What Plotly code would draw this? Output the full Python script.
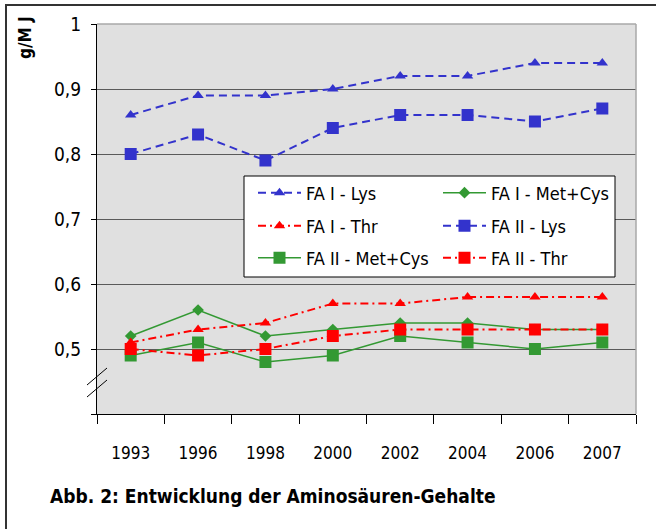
import plotly.graph_objects as go

years = ["1993", "1996", "1998", "2000", "2002", "2004", "2006", "2007"]
fa1_lys = [0.86, 0.89, 0.89, 0.90, 0.92, 0.92, 0.94, 0.94]
fa1_metcys = [0.52, 0.56, 0.52, 0.53, 0.54, 0.54, 0.53, 0.53]
fa1_thr = [0.51, 0.53, 0.54, 0.57, 0.57, 0.58, 0.58, 0.58]
fa2_lys = [0.80, 0.83, 0.79, 0.84, 0.86, 0.86, 0.85, 0.87]
fa2_metcys = [0.49, 0.51, 0.48, 0.49, 0.52, 0.51, 0.50, 0.51]
fa2_thr = [0.50, 0.49, 0.50, 0.52, 0.53, 0.53, 0.53, 0.53]
y_ticks = [0.4, 0.5, 0.6, 0.7, 0.8, 0.9, 1.0]
y_ticktext = ["", "0,5", "0,6", "0,7", "0,8", "0,9", "1"]

FONT = "DejaVu Sans Condensed, sans-serif"
BLUE = "#3333cc"
RED = "#ff0000"
GREEN = "#339933"

W, H = 656, 529
L, R, T, B = 97, 20, 24, 115
PW, PH = W - L - R, H - T - B

def px(x):
    return (x - L) / PW

def py(y):
    return (H - B - y) / PH

# name, values, colour, dash, symbol, size, width, legend row
series = [
    ("FA I - Lys", fa1_lys, BLUE, "8px,5px", "triangle-up", 10, 2, "legend"),
    ("FA I - Met+Cys", fa1_metcys, GREEN, "solid", "diamond", 9, 1.5, "legend"),
    ("FA I - Thr", fa1_thr, RED, "8px,4px,2px,4px", "triangle-up", 10, 2, "legend2"),
    ("FA II - Lys", fa2_lys, BLUE, "8px,5px", "square", 12, 2, "legend2"),
    ("FA II - Met+Cys", fa2_metcys, GREEN, "solid", "square", 12, 1.5, "legend3"),
    ("FA II - Thr", fa2_thr, RED, "8px,4px,2px,4px", "square", 12, 2, "legend3"),
]

fig = go.Figure()
for name, vals, col, dash, sym, size, lw, leg in series:
    fig.add_trace(go.Scatter(
        x=years, y=vals, name=name, mode="lines+markers", legend=leg,
        line=dict(color=col, width=lw, dash=dash),
        marker=dict(symbol=sym, size=size, color=col, line=dict(width=0)),
    ))

def legend_row(yc):
    return dict(
        orientation="h",
        x=px(253), y=py(yc), xanchor="left", yanchor="middle",
        bgcolor="rgba(0,0,0,0)", borderwidth=0,
        font=dict(family=FONT, size=18, color="black"),
        entrywidth=127, itemwidth=43,
    )

fig.update_layout(
    width=W, height=H,
    margin=dict(l=L, r=R, t=T, b=B),
    paper_bgcolor="white",
    plot_bgcolor="#e0e0e0",
    font=dict(family=FONT, size=18, color="black"),
    showlegend=True,
    legend=legend_row(193),
    legend2=legend_row(226),
    legend3=legend_row(258),
    xaxis=dict(
        type="category", showgrid=False, showline=True, linecolor="black", linewidth=1,
        ticks="outside", tickson="boundaries", ticklen=9, tickcolor="black",
        ticklabelstandoff=24, tickfont=dict(size=17), automargin=False,
        range=[-0.5, len(years) - 0.5],
    ),
    yaxis=dict(
        range=[0.4, 1.0], tickvals=y_ticks, ticktext=y_ticktext,
        showgrid=True, gridcolor="#5a5a5a", gridwidth=1,
        showline=True, linecolor="black", linewidth=1,
        ticks="outside", ticklen=5, tickcolor="black", automargin=False,
        ticklabelstandoff=6, tickfont=dict(size=19), zeroline=False,
    ),
)

shapes = [
    dict(type="line", xref="paper", yref="paper", x0=0, x1=1, y0=1, y1=1,
         line=dict(color="#a8a8a8", width=1.5), layer="above"),
    dict(type="line", xref="paper", yref="paper", x0=1, x1=1, y0=0, y1=1,
         line=dict(color="#a8a8a8", width=1.5), layer="above"),
    # outer frame
    dict(type="rect", xref="paper", yref="paper", x0=px(6), x1=px(700), y0=py(5), y1=py(600),
         line=dict(color="#333333", width=2), fillcolor="rgba(0,0,0,0)", layer="above"),
    # legend box
    dict(type="rect", xref="paper", yref="paper", x0=px(244), x1=px(615), y0=py(176), y1=py(277),
         line=dict(color="black", width=1), fillcolor="white", layer="above"),
    # axis break marks
    dict(type="line", xref="paper", yref="paper", x0=px(87), x1=px(107), y0=py(385), y1=py(368),
         line=dict(color="black", width=1)),
    dict(type="line", xref="paper", yref="paper", x0=px(87), x1=px(107), y0=py(397), y1=py(380),
         line=dict(color="black", width=1)),
]
fig.update_layout(shapes=shapes)

fig.add_annotation(text="<b>g/M J</b>", xref="paper", yref="paper",
                   x=px(25), y=py(38), textangle=-90, showarrow=False,
                   xanchor="center", yanchor="middle", font=dict(size=17))
fig.add_annotation(text="<b>Abb. 2: Entwicklung der Aminosäuren-Gehalte</b>",
                   xref="paper", yref="paper", x=px(48), y=py(496), showarrow=False,
                   xanchor="left", yanchor="middle", font=dict(size=19))

fig.write_html("out.html", config={"displayModeBar": False},
               post_script="document.body.style.margin='0';document.body.style.overflow='hidden';")
